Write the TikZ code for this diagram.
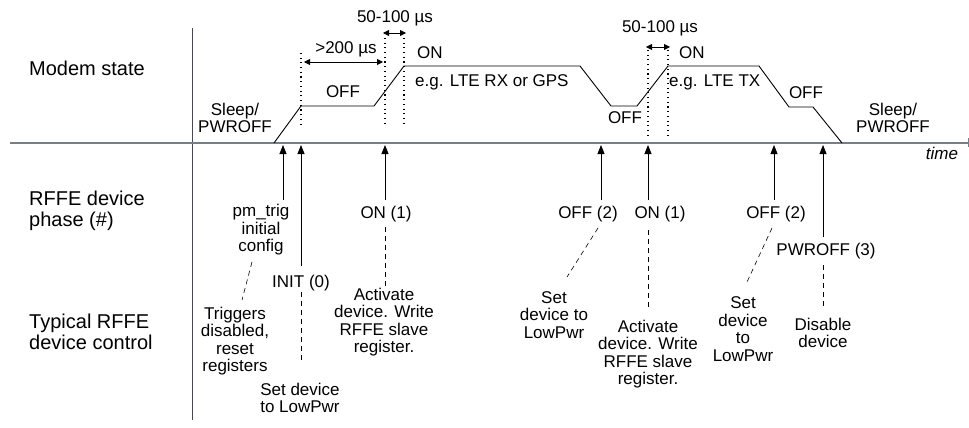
\documentclass[tikz,border=0pt]{standalone}
\usepackage{fontspec}
\setmainfont{Liberation Sans}
\usetikzlibrary{arrows.meta}
\definecolor{axisgray}{RGB}{120,126,134}
\definecolor{framegray}{RGB}{70,74,80}
\tikzset{
  lbl/.style={align=center, inner sep=0pt, font=\fontsize{17}{17.5}\selectfont},
  rowlbl/.style={align=left, anchor=west, inner sep=0pt, font=\fontsize{20}{21}\selectfont},
  evarrow/.style={-{Triangle[length=9pt,width=7pt]}, line width=0.8pt},
  spanarrow/.style={{Triangle[length=6pt,width=6pt]}-{Triangle[length=6pt,width=6pt]}, line width=0.8pt},
  guide/.style={line width=1.1pt, dash pattern=on 1.1pt off 3.6pt},
  notelink/.style={line width=0.6pt, dash pattern=on 5pt off 4pt},
  wave/.style={line width=0.9pt, line join=round}
}
\begin{document}
\begin{tikzpicture}[x=1pt, y=-1pt]
  \useasboundingbox (0,0) rectangle (969,428);
  % axes
  \coordinate (axis) at (0,145);
  \draw[framegray, line width=0.9pt] (192,28) -- (192,420);
  \draw[axisgray, line width=1.4pt] (10,143) -- (968,143);
  \draw[axisgray, line width=1pt] (968,138) -- (968,147);

  % row titles
  \node[rowlbl] (rowmodem) at (29,68) {Modem state};
  \node[rowlbl] (rowphase) at (29,211) {RFFE device\\phase (\#)};
  \node[rowlbl] (rowctrl) at (29,332) {Typical RFFE\\device control};

  % modem state curve
  \draw[wave] (274,143) -- (301,106) -- (374,106) -- (404,66) -- (580,66) -- (611,106)
    -- (637,106) -- (668,66) -- (759,66) -- (789,107) -- (813,107) -- (842,143);

  % timing guides
  \draw[guide] (301,53) -- (301,128);
  \draw[guide] (385,38) -- (385,123) (404,38) -- (404,123);
  \draw[guide] (648,50) -- (648,135) (668,50) -- (668,135);
  \draw[spanarrow] (304,62) -- (383,62);
  \draw[spanarrow] (383,33) -- (406,33);
  \draw[spanarrow] (646,47) -- (670,47);

  % modem state labels
  \node[lbl] (longwait) at (346,49) {>200 µs};
  \node[lbl] (shortwaitA) at (395,18) {50-100 µs};
  \node[lbl] (shortwaitB) at (660,28) {50-100 µs};
  \node[lbl] (sleepA) at (235,118) {Sleep/\\PWROFF};
  \node[lbl] (offA) at (343,92) {OFF};
  \node[lbl, anchor=west] (onA) at (417,53) {ON};
  \node[lbl, anchor=west] (rxgps) at (415,82) {e.g. LTE RX or GPS};
  \node[lbl] (offB) at (625,118) {OFF};
  \node[lbl, anchor=west] (onB) at (679,53) {ON};
  \node[lbl, anchor=west] (ltetx) at (669,82) {e.g. LTE TX};
  \node[lbl] (offC) at (806,93) {OFF};
  \node[lbl] (sleepB) at (893,118) {Sleep/\\PWROFF};
  \node[lbl, font=\fontsize{17}{17.5}\selectfont\itshape] (timelbl) at (942,153) {time};

  % RFFE phases
  \node[lbl] (pmtrig) at (261,230) {pm\_trig\\initial\\config};
  \node[lbl] (init) at (301,283) {INIT (0)};
  \node[lbl] (onph) at (386,214) {ON (1)};
  \node[lbl] (offph) at (588,214) {OFF (2)};
  \node[lbl] (onphB) at (660,214) {ON (1)};
  \node[lbl] (offphB) at (776,214) {OFF (2)};
  \node[lbl] (pwroff) at (826,251) {PWROFF (3)};

  % device control
  \node[lbl] (trig) at (235,341) {Triggers\\disabled,\\reset\\registers};
  \node[lbl] (lowA) at (300,398) {Set device\\to LowPwr};
  \node[lbl] (actA) at (384,322) {Activate\\device. Write\\RFFE slave\\register.};
  \node[lbl] (lowB) at (554,315) {Set\\device to\\LowPwr};
  \node[lbl] (actB) at (648,354) {Activate\\device. Write\\RFFE slave\\register.};
  \node[lbl] (lowC) at (743,329) {Set\\device\\to\\LowPwr};
  \node[lbl] (disable) at (823,333) {Disable\\device};

  % event arrows up to the time axis
  \coordinate (evA) at (283,200);
  \coordinate (evB) at (301,266);
  \coordinate (evC) at (385,200);
  \coordinate (evD) at (601,200);
  \coordinate (evE) at (648,200);
  \coordinate (evF) at (774,200);
  \coordinate (evG) at (823,237);
  \foreach \e in {evA, evB, evC, evD, evE, evF, evG} {
    \draw[evarrow] (\e) -- (\e |- axis);
  }

  % dashed links from phase to control
  \coordinate (lkA) at (252,262);  \coordinate (lkAe) at (242,300);
  \coordinate (lkB) at (301,292);  \coordinate (lkBe) at (301,362);
  \coordinate (lkC) at (385,227);  \coordinate (lkCe) at (385,288);
  \coordinate (lkD) at (598,228);  \coordinate (lkDe) at (567,277);
  \coordinate (lkE) at (648,230);  \coordinate (lkEe) at (648,308);
  \coordinate (lkF) at (772,228);  \coordinate (lkFe) at (747,282);
  \coordinate (lkG) at (823,265);  \coordinate (lkGe) at (823,307);
  \foreach \k in {lkA, lkB, lkC, lkD, lkE, lkF, lkG} {
    \draw[notelink] (\k) -- (\k e);
  }
\end{tikzpicture}
\end{document}
